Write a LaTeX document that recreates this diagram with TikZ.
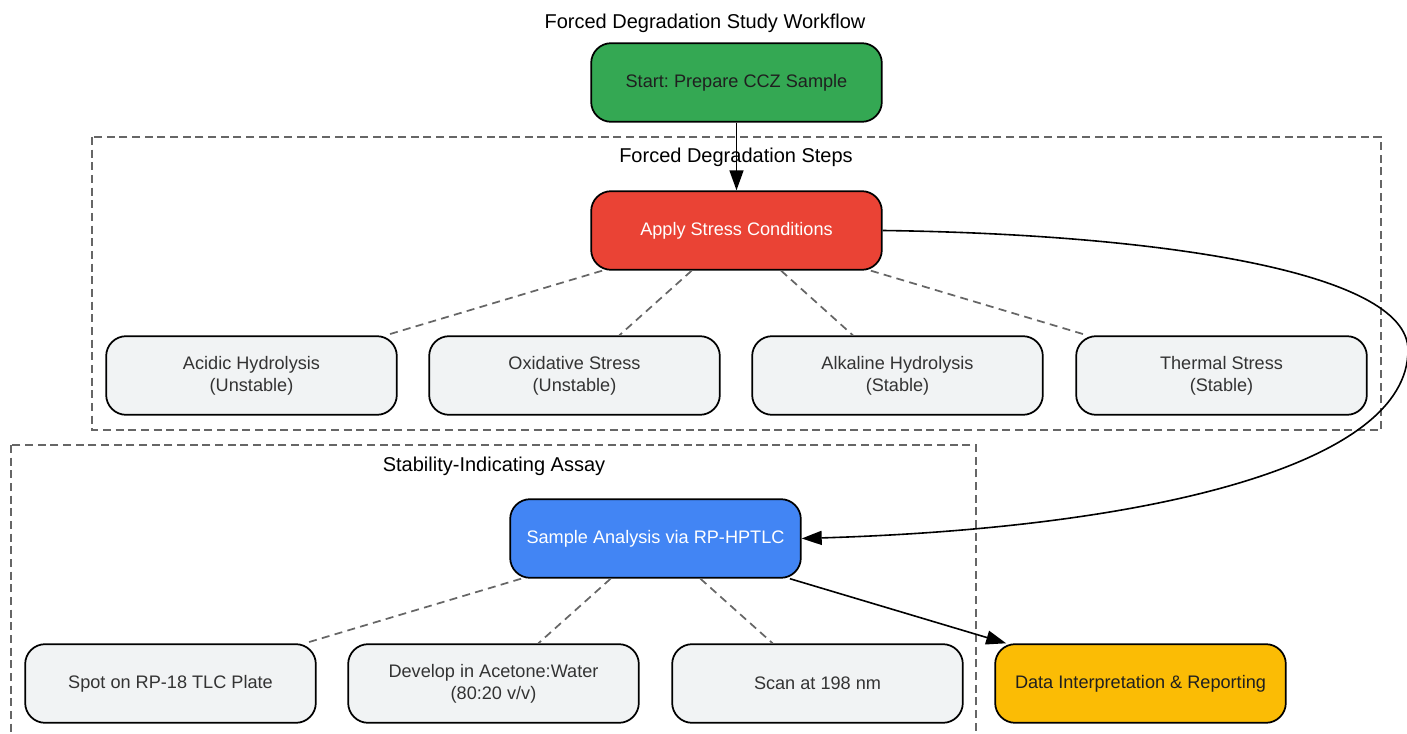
\documentclass[tikz,border=0pt]{standalone}
\usepackage{fontspec}
\setmainfont{Liberation Sans}
\usetikzlibrary{arrows.meta}
\frenchspacing
\definecolor{cgreen}{HTML}{34A853}
\definecolor{cred}{HTML}{EA4335}
\definecolor{cblue}{HTML}{4285F4}
\definecolor{cyellow}{HTML}{FBBC05}
\definecolor{cgrayfill}{HTML}{F1F3F4}
\definecolor{ctext}{HTML}{333333}
\definecolor{cdash}{HTML}{666666}
\tikzset{
  box/.style={draw=black, line width=1.3pt, rounded corners=15pt, minimum width=218pt, minimum height=59pt, align=center, font=\frenchspacing\fontsize{13.6}{16.5}\selectfont, text=ctext, fill=cgrayfill, inner sep=2pt},
  cluster/.style={draw=cdash, line width=1.1pt, dash pattern=on 6pt off 3.5pt},
  clabel/.style={font=\fontsize{15}{18}\selectfont, text=black},
  link/.style={draw=cdash, line width=1.3pt, dash pattern=on 6pt off 4pt},
  flow/.style={draw=black, line width=1.2pt, -{Triangle[length=15pt,width=10.5pt]}}
}
\begin{document}
\begin{tikzpicture}[x=0.75pt,y=-0.75pt]
\useasboundingbox (0,0) rectangle (1407,734);
% clusters
\draw[cluster] (92,137) rectangle (1381,430);
\draw[cluster] (11,445) rectangle (976,745);
\node[clabel] (title) at (705,23) {Forced Degradation Study Workflow};
\node[clabel] (lab1) at (736,157) {Forced Degradation Steps};
\node[clabel] (lab2) at (494,466) {Stability-Indicating Assay};
% nodes
\node[box, fill=cgreen, text=black!88] (start) at (736.5,82.5) {Start: Prepare CCZ Sample};
\node[box, fill=cred, text=white] (apply) at (736.5,230.5) {Apply Stress Conditions};
\node[box] (acid) at (251.5,375.5) {Acidic Hydrolysis\\(Unstable)};
\node[box] (oxid) at (574.5,375.5) {Oxidative Stress\\(Unstable)};
\node[box] (alk) at (897.5,375.5) {Alkaline Hydrolysis\\(Stable)};
\node[box] (therm) at (1221.5,375.5) {Thermal Stress\\(Stable)};
\node[box, fill=cblue, text=white] (sample) at (655.5,538.5) {Sample Analysis via RP-HPTLC};
\node[box] (spot) at (170.5,683.5) {Spot on RP-18 TLC Plate};
\node[box] (dev) at (493.5,683.5) {Develop in Acetone:Water\\(80:20 v/v)};
\node[box] (scan) at (817.5,683.5) {Scan at 198 nm};
\node[box, fill=cyellow, text=black!88] (data) at (1140.5,683.5) {Data Interpretation \& Reporting};
% links
\draw[link] (apply) -- (acid);
\draw[link] (apply) -- (oxid);
\draw[link] (apply) -- (alk);
\draw[link] (apply) -- (therm);
\draw[link] (sample) -- (spot);
\draw[link] (sample) -- (dev);
\draw[link] (sample) -- (scan);
% flows
\draw[flow] (start) -- (apply);
\draw[flow] (apply.east) .. controls (1150,234) and (1408,270) .. (1408,350) .. controls (1408,465) and (1150,528) .. (sample.east);
\draw[flow] (sample) -- (data);
\end{tikzpicture}
\end{document}
